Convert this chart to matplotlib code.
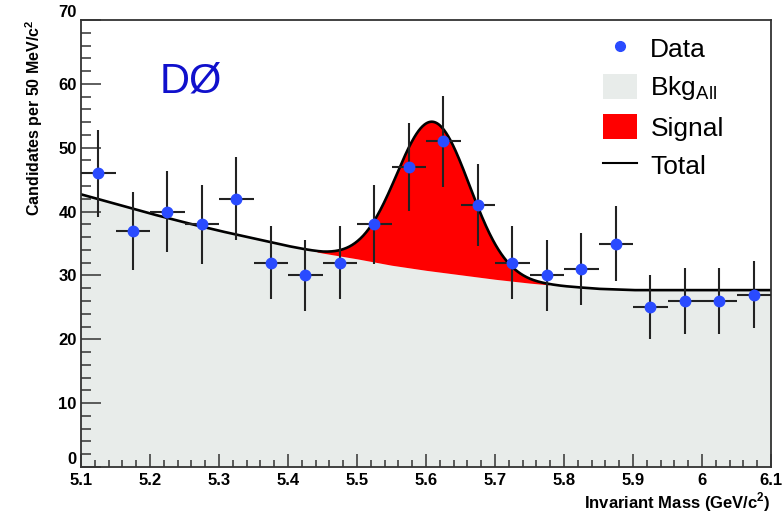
import matplotlib.pyplot as plt
from matplotlib.lines import Line2D
from matplotlib.patches import Patch
from matplotlib.ticker import MultipleLocator, FuncFormatter
import numpy as np

plt.rcParams['font.family'] = ['Liberation Sans', 'DejaVu Sans']
plt.rcParams['mathtext.fontset'] = 'custom'
plt.rcParams['mathtext.rm'] = 'Liberation Sans'
plt.rcParams['mathtext.bf'] = 'Liberation Sans:bold'

# Datos (centros de bin de 50 MeV)
mass = [5.125, 5.175, 5.225, 5.275, 5.325, 5.375, 5.425, 5.475, 5.525, 5.575,
        5.625, 5.675, 5.725, 5.775, 5.825, 5.875, 5.925, 5.975, 6.025, 6.075]
counts = [46, 37, 40, 38, 42, 32, 30, 32, 38, 47,
          51, 41, 32, 30, 31, 35, 25, 26, 26, 27]
count_err = [6.8, 6.1, 6.3, 6.2, 6.5, 5.7, 5.5, 5.7, 6.2, 6.9,
             7.1, 6.4, 5.7, 5.5, 5.6, 5.9, 5.0, 5.1, 5.1, 5.2]
bin_half = 0.025

# Fondo total leido cada 0.05 GeV
bkg_mass = [5.10, 5.15, 5.20, 5.25, 5.30, 5.35, 5.40, 5.45, 5.50, 5.55, 5.60,
            5.65, 5.70, 5.75, 5.80, 5.85, 5.90, 5.95, 6.00, 6.05, 6.10]
bkg_level = [42.7, 41.2, 39.7, 38.3, 37.0, 35.8, 34.6, 33.5, 32.6, 31.6, 30.8,
             30.1, 29.4, 28.8, 28.3, 27.9, 27.7, 27.7, 27.7, 27.7, 27.7]

# Senal gaussiana
sig_mean = 5.61
sig_sigma = 0.053
sig_height = 23.4

fig = plt.figure(figsize=(7.82, 5.14), dpi=100)
ax = fig.add_axes([81 / 782, 1 - 467 / 514, 690 / 782, 447 / 514])

grid = np.linspace(5.1, 6.1, 1001)
bkg = np.interp(grid, bkg_mass, bkg_level)
signal = sig_height * np.exp(-0.5 * ((grid - sig_mean) / sig_sigma) ** 2)
total = bkg + signal

bkg_color = '#e8ecea'
ax.fill_between(grid, 0, bkg, color=bkg_color, lw=0)
ax.fill_between(grid, bkg, total, where=signal > 0.15, color='#ff0000', lw=0)
ax.plot(grid, total, color='black', lw=1.9)

ax.errorbar(mass, counts, yerr=count_err, xerr=bin_half, fmt='o',
            color='#2a4bff', ms=7.5, mec='#2a4bff', ecolor='#222222',
            elinewidth=1.5, capsize=0, zorder=5)

ax.set_xlim(5.1, 6.1)
ax.set_ylim(0, 70)

ax.xaxis.set_major_locator(MultipleLocator(0.1))
ax.xaxis.set_minor_locator(MultipleLocator(0.02))
ax.yaxis.set_major_locator(MultipleLocator(10))
ax.yaxis.set_minor_locator(MultipleLocator(2))
ax.xaxis.set_major_formatter(FuncFormatter(lambda v, p: f'{v:g}'))
ax.yaxis.set_major_formatter(FuncFormatter(lambda v, p: f'{v:g}'))

ax.tick_params(axis='x', which='major', direction='in', length=9.6, width=1.1,
               pad=4, labelsize=12, color='#333333')
ax.tick_params(axis='x', which='minor', direction='in', length=4.8, width=1.1,
               color='#333333')
ax.tick_params(axis='y', which='major', direction='in', length=14.5, width=1.1,
               pad=3, labelsize=12, color='#333333')
ax.tick_params(axis='y', which='minor', direction='in', length=7.2, width=1.1,
               color='#333333')
for lab in ax.get_xticklabels() + ax.get_yticklabels():
    lab.set_fontweight('bold')

# estilo ROOT: "0" y "70" quedan por encima de su marca
for tick in ax.yaxis.get_major_ticks():
    if tick.get_loc() in (0, 70):
        tick.label1.set_verticalalignment('bottom')

for s in ax.spines.values():
    s.set_linewidth(1.3)
    s.set_color('#333333')

ax.set_xlabel(r'Invariant Mass (GeV/c$^{\mathbf{2}}$)', fontsize=12,
              fontweight='bold', loc='right', labelpad=2)
ax.set_ylabel(r'Candidates per 50 MeV/c$^{\mathbf{2}}$', fontsize=11.5,
              fontweight='bold', loc='top', labelpad=10)

ax.text(5.2145, 58.6, 'DØ', color='#1010cc', fontsize=30)

handles = [
    Line2D([], [], marker='o', ls='none', color='#2a4bff', ms=7),
    Patch(facecolor=bkg_color, edgecolor='none'),
    Patch(facecolor='#ff0000', edgecolor='none'),
    Line2D([], [], color='black', lw=1.5),
]
labels = ['Data', r'Bkg$_{\mathregular{All}}$', 'Signal', 'Total']
leg = ax.legend(handles, labels, loc='upper left', bbox_to_anchor=(0.741, 0.99),
                frameon=False, fontsize=19, handlelength=1.3, handleheight=1.1,
                handletextpad=0.5, labelspacing=0.45, borderaxespad=0)

fig.savefig('out.png', dpi=100)
